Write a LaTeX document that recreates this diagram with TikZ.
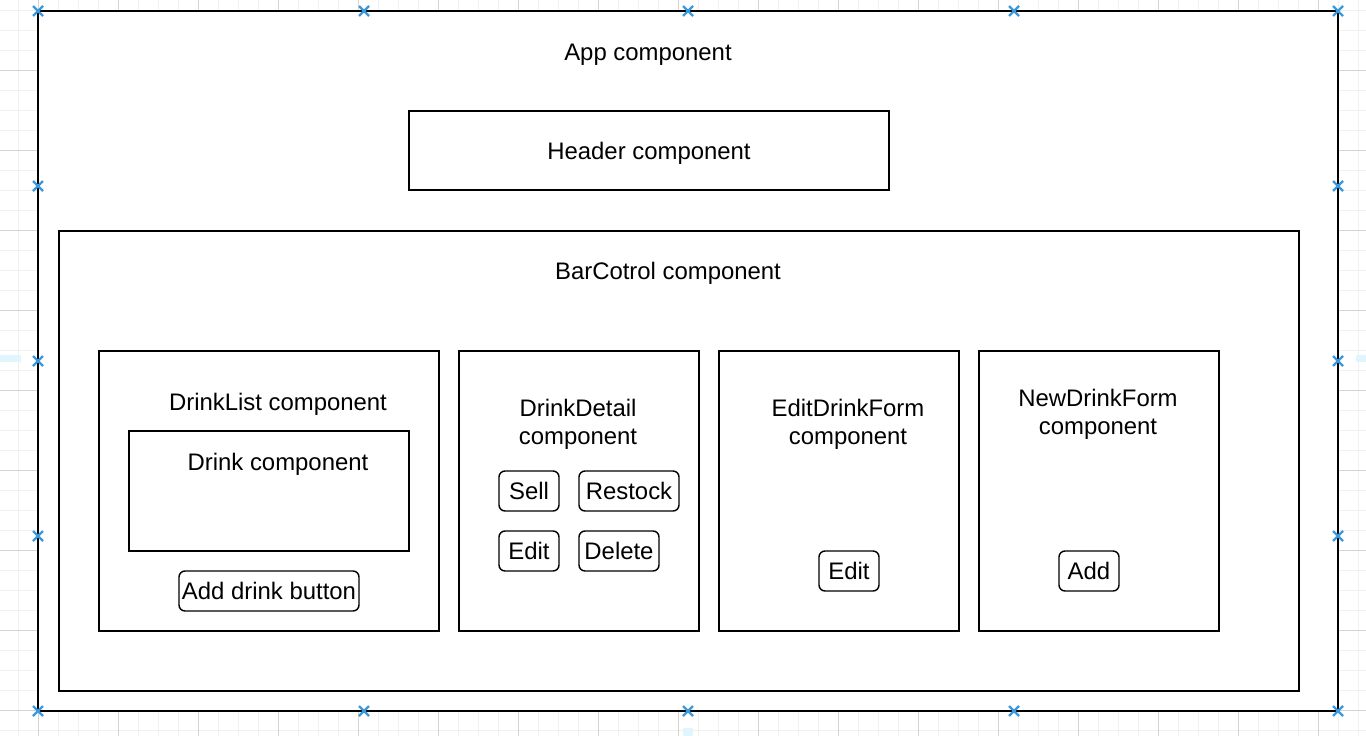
\documentclass[tikz,border=0pt]{standalone}
\usepackage{fontspec}
\setmainfont{Liberation Sans}
\begin{document}
\begin{tikzpicture}[x=1pt,y=-1pt,
  box/.style={draw=black,line width=1.8pt,fill=white},
  btn/.style={draw=black,line width=1.4pt,fill=white,rounded corners=6pt},
  lbl/.style={font=\fontsize{23.9}{28.5}\selectfont,align=center,inner sep=0pt,yshift=-2.5pt},
  blbl/.style={lbl,yshift=3pt},
  minorgrid/.style={draw=black!6,line width=1pt},
  majorgrid/.style={draw=black!17,line width=1pt},
  handle/.style={draw=cyan!70!blue!80,line width=2.2pt},
  marker/.style={fill=cyan!12}]
\useasboundingbox (0,0) rectangle (1366,736);
\fill[white] (0,0) rectangle (1366,736);
% grid
\foreach \x in {18,38,...,1358} \draw[minorgrid] (\x,0) -- (\x,736);
\foreach \y in {10,30,...,730} \draw[minorgrid] (0,\y) -- (1366,\y);
\foreach \x in {38,118,...,1358} \draw[majorgrid] (\x,0) -- (\x,736);
\foreach \y in {70,150,...,730} \draw[majorgrid] (0,\y) -- (1366,\y);
\fill[marker] (0,355) rectangle (21,362);
\fill[marker] (1356,355) rectangle (1366,362);
\fill[marker] (683,728) rectangle (693,736);
% boxes
\node[box,minimum width=1300,minimum height=700,inner sep=0pt] (app) at (688,361) {};
\node[lbl] (applbl) at (648,52) {App component};
\node[box,minimum width=480,minimum height=79,inner sep=0pt] (header) at (649,150.5) {};
\node[lbl] at (header.center) {Header component};
\node[box,minimum width=1240,minimum height=460,inner sep=0pt] (bar) at (679,461) {};
\node[lbl] (barlbl) at (668,271) {BarCotrol component};
% DrinkList
\node[box,minimum width=340,minimum height=280,inner sep=0pt] (dl) at (269,491) {};
\node[lbl] (dllbl) at (278,402) {DrinkList component};
\node[box,minimum width=280,minimum height=120,inner sep=0pt] (drink) at (269,491) {};
\node[lbl] (drinklbl) at (278,462) {Drink component};
\node[btn,minimum width=180,minimum height=40,inner sep=0pt] (addbtn) at (269,591) {};
\node[blbl] at (addbtn.center) {Add drink button};
% DrinkDetail
\node[box,minimum width=240,minimum height=280,inner sep=0pt] (dd) at (579,491) {};
\node[lbl] (ddlbl) at (578,422) {DrinkDetail\\component};
\node[btn,minimum width=60,minimum height=40,inner sep=0pt] (sell) at (529,491) {};
\node[blbl] at (sell.center) {Sell};
\node[btn,minimum width=100,minimum height=40,inner sep=0pt] (restock) at (629,491) {};
\node[blbl] at (restock.center) {Restock};
\node[btn,minimum width=60,minimum height=40,inner sep=0pt] (edit1) at (529,551) {};
\node[blbl] at (edit1.center) {Edit};
\node[btn,minimum width=80,minimum height=40,inner sep=0pt] (delete) at (619,551) {};
\node[blbl] at (delete.center) {Delete};
% EditDrinkForm
\node[box,minimum width=240,minimum height=280,inner sep=0pt] (edf) at (839,491) {};
\node[lbl] (edflbl) at (848,422) {EditDrinkForm\\component};
\node[btn,minimum width=60,minimum height=40,inner sep=0pt] (edit2) at (849,571) {};
\node[blbl] at (edit2.center) {Edit};
% NewDrinkForm
\node[box,minimum width=240,minimum height=280,inner sep=0pt] (ndf) at (1099,491) {};
\node[lbl] (ndflbl) at (1098,412) {NewDrinkForm\\component};
\node[btn,minimum width=60,minimum height=40,inner sep=0pt] (add) at (1089,571) {};
\node[blbl] at (add.center) {Add};
% selection handles
\foreach \p in {(38,11),(364,11),(688,11),(1014,11),(1338,11),
                (38,711),(364,711),(688,711),(1014,711),(1338,711),
                (38,186),(38,361),(38,536),(1338,186),(1338,361),(1338,536)}
  \draw[handle] \p ++(-5,-5) -- ++(10,10) \p ++(-5,5) -- ++(10,-10);
\end{tikzpicture}
\end{document}
